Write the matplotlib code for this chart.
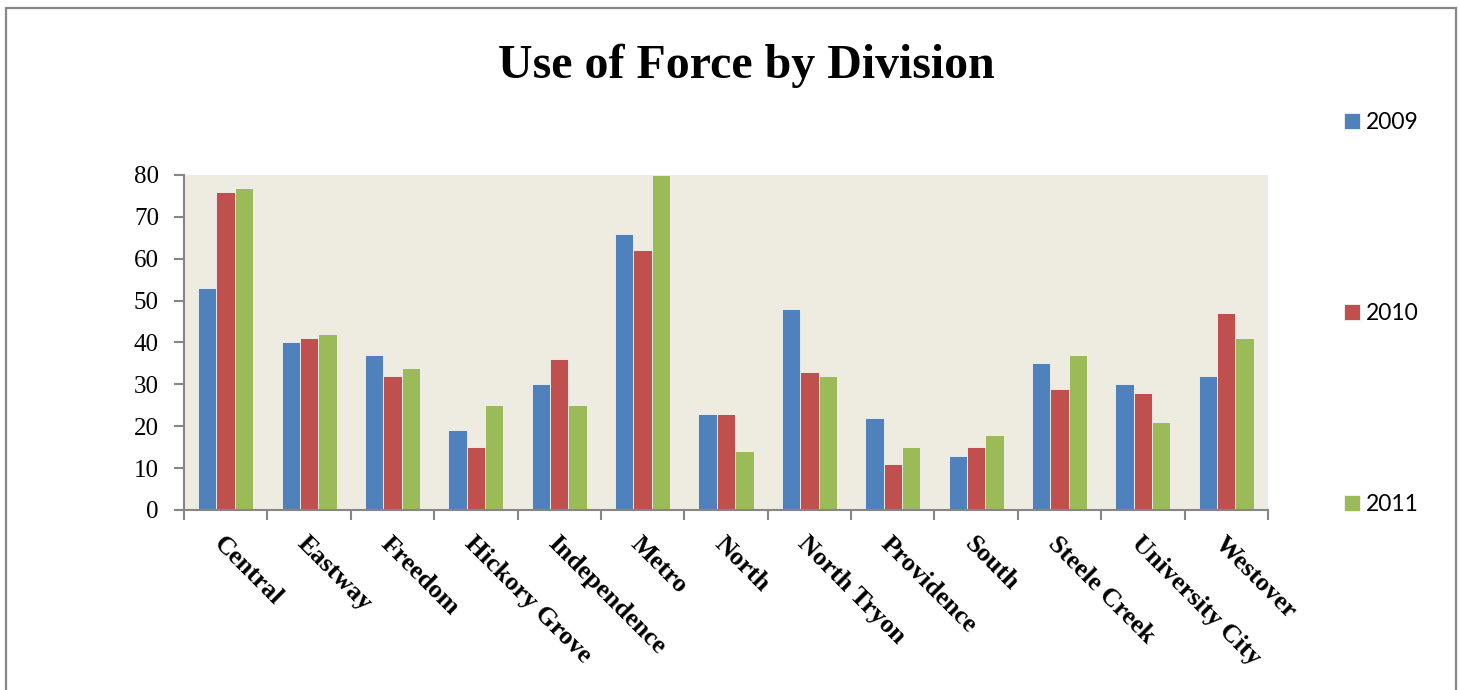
import numpy as np
import matplotlib.pyplot as plt
from matplotlib.patches import Rectangle

# data
divisions = ['Central', 'Eastway', 'Freedom', 'Hickory Grove', 'Independence',
             'Metro', 'North', 'North Tryon', 'Providence', 'South',
             'Steele Creek', 'University City', 'Westover']
years = ['2009', '2010', '2011']
y2009 = [53, 40, 37, 19, 30, 66, 23, 48, 22, 13, 35, 30, 32]
y2010 = [76, 41, 32, 15, 36, 62, 23, 33, 11, 15, 29, 28, 47]
y2011 = [77, 42, 34, 25, 25, 80, 14, 32, 15, 18, 37, 21, 41]

colors = ['#4F81BD', '#C0504D', '#9BBB59']

fig = plt.figure(figsize=(14.6, 6.9), dpi=100)
ax = fig.add_axes([0.126, 0.2609, 0.7425, 0.4855])
ax.set_facecolor('#EEEBE0')

x = np.arange(len(divisions))
w = 0.22
for i, (vals, c, lab) in enumerate(zip([y2009, y2010, y2011], colors, years)):
    ax.bar(x + (i - 1) * w, vals, width=w, color=c, edgecolor='#F4F4F4',
           linewidth=0.6, label=lab, zorder=2)

ax.set_xlim(-0.5, len(divisions) - 0.5)
ax.set_ylim(0, 80)
ax.set_yticks(range(0, 81, 10))
ax.set_yticklabels([str(v) for v in range(0, 81, 10)],
                   family='Liberation Serif', fontsize=18)

ax.set_xticks(x)
ax.set_xticklabels(divisions, rotation=-45, ha='left', va='top',
                   rotation_mode='anchor', family='Liberation Serif',
                   fontsize=19, fontweight='bold')
ax.tick_params(axis='x', which='major', length=0, pad=16)
ax.set_xticks(np.arange(-0.5, len(divisions)), minor=True)
ax.tick_params(axis='x', which='minor', length=7, width=1.5, color='#868686',
               direction='out')
ax.tick_params(axis='y', length=7, width=1.5, color='#868686', pad=11)

for s in ['top', 'right']:
    ax.spines[s].set_visible(False)
for s in ['left', 'bottom']:
    ax.spines[s].set_color('#868686')
    ax.spines[s].set_linewidth(1.5)

fig.text(0.511, 0.905, 'Use of Force by Division', ha='center', va='center',
         family='Liberation Serif', fontsize=34.5, fontweight='bold')

leg = fig.legend(loc='upper left', bbox_to_anchor=(0.9144, 0.8514),
                 frameon=False, prop={'family': 'Lato', 'size': 16.5},
                 handlelength=0.7, handleheight=0.7, handletextpad=0.26,
                 labelspacing=7.42, borderaxespad=0)

# outer chart frame
fig.patches.append(Rectangle((6 / 1460, -0.1), 1450 / 1460, 1.1 - 8.5 / 690,
                             transform=fig.transFigure, fill=False,
                             edgecolor='#878787', linewidth=1.6))

fig.savefig('out.png', dpi=100)
